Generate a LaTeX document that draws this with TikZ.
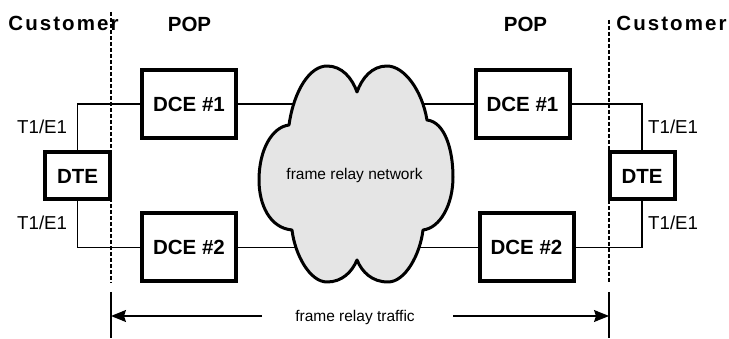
\documentclass[tikz,border=0pt]{standalone}
\usepackage{fontspec}
\setmainfont{Liberation Sans}
\usetikzlibrary{arrows.meta}
\begin{document}
\begin{tikzpicture}[x=1pt,y=-1pt,
  box/.style={draw,line width=4pt,fill=white,inner sep=0pt,
    font=\fontsize{20.5}{24}\bfseries\selectfont},
  dcebox/.style={box,minimum width=94pt,minimum height=68pt},
  dtebox/.style={box,minimum width=65pt,minimum height=47pt},
  link/.style={line width=1.3pt},
  border/.style={line width=1.3pt,dash pattern=on 4pt off 2pt},
  head/.style={anchor=base,inner sep=0pt,font=\fontsize{20.5}{24}\bfseries\selectfont},
  sitehead/.style={head,font=\fontsize{20.5}{24}\bfseries\selectfont\addfontfeatures{LetterSpace=10}},
  rate/.style={anchor=base west,inner sep=0pt,font=\fontsize{18.7}{22}\selectfont},
  note/.style={anchor=base,inner sep=0pt,font=\fontsize{15.5}{18}\selectfont},
  cloudfill/.style={draw,line width=3pt,fill=black!10,line join=round},
  tip/.style={-{Stealth[length=15pt,width=12pt,inset=2pt]}}
]
\useasboundingbox (0,0) rectangle (729,339);

% customer / POP demarcation lines
\draw[border] (111,12) -- (111,283);
\draw[border] (609,20) -- (609,283);
\draw[link] (111,292) -- (111,338);
\draw[link] (609,292) -- (609,338);

% headings
\node[sitehead] at (63.5,31) {Customer};
\node[sitehead] at (671.5,31) {Customer};
\node[head] at (189.5,32) {POP};
\node[head] at (525.5,32) {POP};

% equipment
\node[dtebox] (dtel) at (77.5,176) {DTE};
\node[dtebox] (dter) at (642,176) {DTE};
\node[dcebox] (dce1l) at (189,104) {DCE \#1};
\node[dcebox] (dce2l) at (189,247.5) {DCE \#2};
\node[dcebox] (dce1r) at (522.5,104) {DCE \#1};
\node[dcebox] (dce2r) at (526.5,247.5) {DCE \#2};

% access circuits
\draw[link] (dtel.north) |- (dce1l);
\draw[link] (dtel.south) |- (dce2l);
\draw[link] (dter.north) |- (dce1r);
\draw[link] (dter.south) |- (dce2r);
\node[rate] at (17,134) {T1/E1};
\node[rate] at (17,230) {T1/E1};
\node[rate] at (648,134) {T1/E1};
\node[rate] at (648,230) {T1/E1};

% trunks through the network
\draw[link] (dce1l) -- (dce1r);
\draw[link] (dce2l) -- (dce2r);

% the network cloud
\draw[cloudfill] (289,125)
  .. controls (294,90) and (310,66) .. (327,66)
  .. controls (342,66) and (352,78) .. (357,92)
  .. controls (362,78) and (372,66) .. (387,66)
  .. controls (404,66) and (422,90) .. (427,120)
  .. controls (445,122) and (453,150) .. (453,177)
  .. controls (453,205) and (440,228) .. (423,230)
  .. controls (420,255) and (405,282) .. (388,282)
  .. controls (372,282) and (362,272) .. (357,260)
  .. controls (352,272) and (342,282) .. (327,282)
  .. controls (310,282) and (295,255) .. (292,230)
  .. controls (270,228) and (259,205) .. (259,180)
  .. controls (259,150) and (272,127) .. cycle;
\node[note] (net) at (354.5,180) {frame relay network};

% traffic span
\coordinate (spanl) at (111,316);
\coordinate (spanr) at (609,316);
\coordinate (gapl) at (262,316);
\coordinate (gapr) at (453,316);
\draw[link,tip] (gapl) -- (spanl);
\draw[link,tip] (gapr) -- (spanr);
\node[note] (traffic) at (355,321.5) {frame relay traffic};
\end{tikzpicture}
\end{document}
